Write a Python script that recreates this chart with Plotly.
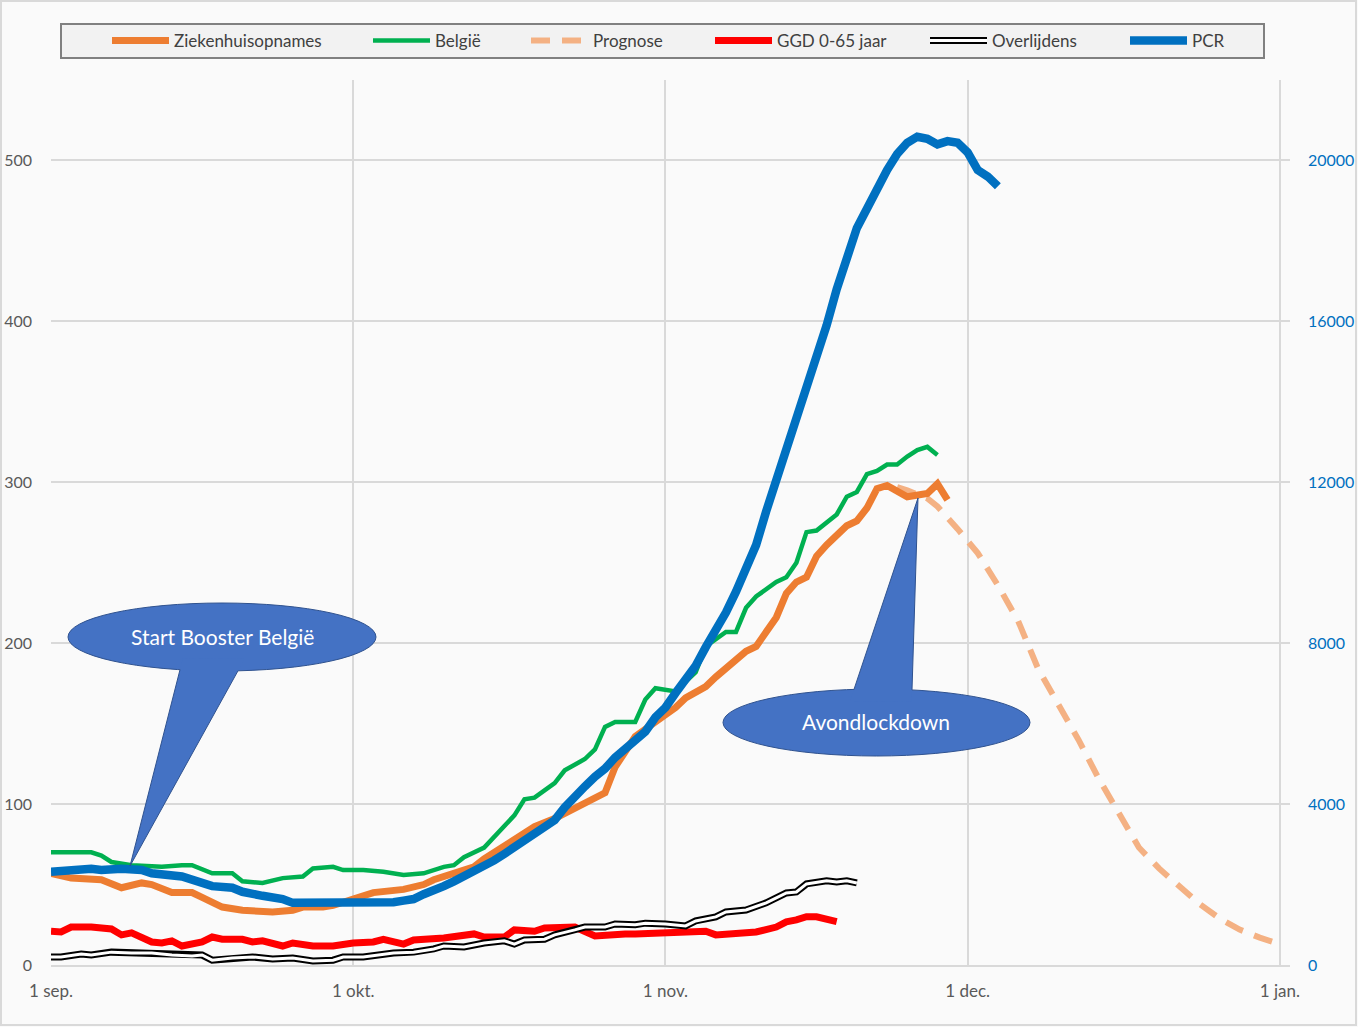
import pandas as pd
import plotly.graph_objects as go

START = "2021-09-01"

# ---------------- data (day offsets from 1 sep 2021) ----------------
zkh_day = [0, 2, 5, 7, 9, 10, 12, 14, 15, 17, 19, 22, 24, 25, 27, 28, 30, 32, 35, 37,
           38, 40, 42, 43, 45, 47, 48, 50, 53, 55, 56, 58, 60, 62, 63, 65, 66, 69, 70, 72,
           73, 74, 75, 76, 77, 79, 80, 81, 82, 83, 85, 87, 88, 89]
zkh_val = [57, 54, 53, 48, 51, 50, 45, 45, 42, 36, 34, 33, 34, 36, 36, 37, 41, 45, 47, 50,
           53, 57, 61, 66, 74, 81, 86, 91, 101, 107, 123, 142, 151, 160, 166, 173, 179, 195, 198, 216,
           231, 238, 241, 254, 261, 273, 276, 284, 296, 298, 291, 293, 299, 289]

bel_day = [0, 2, 4, 5, 6, 8, 10, 11, 13, 14, 16, 18, 19, 21, 23, 25, 26, 28, 29, 31,
           33, 35, 37, 39, 40, 41, 43, 45, 46, 47, 48, 50, 51, 53, 54, 55, 56, 58, 59, 60,
           62, 64, 65, 67, 68, 69, 70, 72, 73, 74, 75, 76, 77, 78, 79, 80, 81, 82, 83, 84,
           85, 86, 87, 88]
bel_val = [70, 70, 70, 68, 64, 62, 61, 61, 62, 62, 57, 57, 52, 51, 54, 55, 60, 61, 59, 59,
           58, 56, 57, 61, 62, 67, 73, 87, 93, 103, 104, 113, 121, 128, 134, 148, 151, 151, 165, 172,
           170, 182, 198, 207, 207, 222, 229, 238, 241, 250, 269, 270, 275, 280, 291, 294, 305, 307, 311, 311,
           316, 320, 322, 317]

prog_day = [84, 85, 87, 88, 90, 92, 94, 96, 98, 100, 102, 104, 106, 108, 110, 112, 114, 116, 118, 120, 122]
prog_val = [297, 295, 290, 285, 271, 256, 236, 214, 184, 162, 140, 116, 94, 73, 60, 49, 38, 29, 22, 17, 13]

ggd_day = [0, 1, 2, 4, 6, 7, 8, 10, 11, 12, 13, 15, 16, 17, 19, 20, 21, 23, 24, 26,
           28, 30, 32, 33, 35, 36, 39, 42, 43, 45, 46, 48, 49, 51, 52, 54, 55, 57, 58, 60,
           63, 65, 66, 68, 70, 72, 73, 74, 75, 76, 77, 78]
ggd_val = [21, 20.5, 23.6, 23.6, 22.4, 18.7, 20, 14.3, 13.7, 15, 11.8, 14.3, 17.4, 16, 16, 14.3, 15, 11.8, 13.7, 11.8,
           11.8, 13.7, 14.3, 16, 13, 15.6, 16.8, 19.3, 17.4, 17.4, 21.8, 21, 23, 23, 23.6, 18, 18.7, 19.3, 19.3, 20,
           20.5, 21, 18.7, 19.9, 20.5, 23.6, 26.8, 28, 30, 30, 29, 27]

ovl_day = [0, 1, 3, 4, 6, 8, 10, 12, 14, 15, 16, 18, 20, 22, 24, 26, 28, 29, 31, 34,
           36, 38, 39, 41, 43, 45, 46, 47, 49, 50, 52, 53, 55, 56, 58, 59, 61, 63, 64, 66,
           67, 69, 71, 73, 74, 75, 77, 78, 79, 80]
ovl_val = [5, 5, 6.8, 6.2, 8, 7.5, 7.5, 6.2, 5.6, 6.2, 3, 4.4, 5, 3.7, 4.4, 2.5, 3, 5, 5, 7.5,
           8, 10, 11.8, 11.2, 13.7, 15, 13, 15.6, 16, 18.7, 21.8, 23.6, 23.6, 25.5, 25, 26, 25.5, 24.3, 27.4, 29.9,
           33, 34.2, 38.6, 44.8, 45.4, 50.4, 52.3, 51.6, 52.3, 51]

pcr_day = [0, 2, 4, 5, 7, 9, 10, 13, 14, 16, 18, 19, 21, 23, 24, 26, 28, 30, 32] + list(range(34, 95))
pcr_val = [2320, 2360, 2390, 2360, 2390, 2360, 2280, 2200, 2120, 1960, 1920, 1820, 1720, 1640, 1545, 1545, 1545, 1520, 1545,
           1560, 1600, 1640, 1760, 1840, 1960, 2080, 2200, 2320, 2480, 2600, 2760, 2920, 3080, 3240, 3400,
           3600, 3920, 4200, 4440, 4680, 4880, 5160, 5360, 5560, 5800, 6160, 6400, 6760, 7120, 7440, 7900,
           8320, 8760, 9280, 9840, 10440, 11280, 12040, 12720, 13600, 14300, 15000, 15900, 16800, 17560, 18320,
           18800, 19320, 19760, 20160, 20440, 20590, 20540, 20400, 20480, 20440, 20200, 19760, 19600, 19360]

tick_dates = ["2021-09-01", "2021-10-01", "2021-11-01", "2021-12-01", "2022-01-01"]
tick_text = ["1 sep.", "1 okt.", "1 nov.", "1 dec.", "1 jan."]
left_ticks = [0, 100, 200, 300, 400, 500]
right_ticks = [0, 4000, 8000, 12000, 16000, 20000]


def to_dates(days):
    return pd.Timestamp(START) + pd.to_timedelta(days, unit="D")


FONT = "Lato"
fig = go.Figure()

# Prognose first so the observed orange line is drawn above it
fig.add_trace(go.Scatter(x=to_dates(prog_day), y=prog_val, name="Prognose", mode="lines",
                         line=dict(color="#f4b183", width=6, dash="19px,12px"), legend="legend3"))
fig.add_trace(go.Scatter(x=to_dates(zkh_day), y=zkh_val, name="Ziekenhuisopnames", mode="lines",
                         line=dict(color="#ed7d31", width=7), legend="legend"))
fig.add_trace(go.Scatter(x=to_dates(bel_day), y=bel_val, name="België", mode="lines",
                         line=dict(color="#00b050", width=4.5), legend="legend2"))
fig.add_trace(go.Scatter(x=to_dates(ggd_day), y=ggd_val, name="GGD 0-65 jaar", mode="lines",
                         line=dict(color="#ff0000", width=7), legend="legend4"))
fig.add_trace(go.Scatter(x=to_dates(ovl_day), y=ovl_val, name="Overlijdens", mode="lines",
                         line=dict(color="#000000", width=7), legend="legend5"))
fig.add_trace(go.Scatter(x=to_dates(ovl_day), y=ovl_val, name=" ", mode="lines",
                         line=dict(color="#ffffff", width=3), legend="legend7"))
fig.add_trace(go.Scatter(x=to_dates(pcr_day), y=pcr_val, name="PCR", mode="lines", yaxis="y2",
                         line=dict(color="#0070c0", width=8.5), legend="legend6"))

# ---------------- layout helpers (pixel -> paper) ----------------
L, R, T, B = 51, 1290, 80, 965


def px(x):
    return (x - L) / (R - L)


def py(y):
    return (B - y) / (B - T)


shapes = [
    dict(type="rect", xref="paper", yref="paper", x0=px(1), x1=px(1356), y0=py(1025), y1=py(1),
         line=dict(color="#d9d9d9", width=2), fillcolor="rgba(0,0,0,0)", layer="below"),
    # legend frame
    dict(type="rect", xref="paper", yref="paper", x0=px(61), x1=px(1264), y0=py(58), y1=py(24),
         line=dict(color="#808080", width=2), fillcolor="#f2f2f2", layer="below"),
]


def callout(cx, cy, a, b, bl, br, tip):
    out = []
    out.append(dict(type="circle", xref="paper", yref="paper", x0=px(cx - a), x1=px(cx + a),
                    y0=py(cy + b), y1=py(cy - b), fillcolor="#4472c4",
                    line=dict(color="#2f528f", width=1), layer="above"))

    def ext(p, k=0.06):
        return (p[0] + (p[0] - tip[0]) * k, p[1] + (p[1] - tip[1]) * k)

    el, er = ext(bl), ext(br)
    p = (f"M {px(el[0])},{py(el[1])} L {px(er[0])},{py(er[1])} "
         f"L {px(tip[0])},{py(tip[1])} Z")
    out.append(dict(type="path", xref="paper", yref="paper", path=p, fillcolor="#4472c4",
                    line=dict(width=0), layer="above"))
    p2 = (f"M {px(bl[0])},{py(bl[1])} L {px(tip[0])},{py(tip[1])} L {px(br[0])},{py(br[1])}")
    out.append(dict(type="path", xref="paper", yref="paper", path=p2, fillcolor="rgba(0,0,0,0)",
                    line=dict(color="#2f528f", width=1), layer="above"))
    return out


shapes += callout(222, 637, 154, 34, (180, 669.7), (238, 670.8), (130, 866))
shapes += callout(876.5, 722.5, 153.5, 33.5, (854, 689.4), (912, 689.9), (918, 498))

annotations = [
    dict(text="Start Booster België", xref="paper", yref="paper", x=px(222), y=py(636),
         xanchor="center", yanchor="middle",
         showarrow=False, font=dict(family=FONT, size=21, color="white")),
    dict(text="Avondlockdown", xref="paper", yref="paper", x=px(876), y=py(721),
         xanchor="center", yanchor="middle",
         showarrow=False, font=dict(family=FONT, size=21, color="white")),
]

LEG_FONT = dict(family=FONT, size=17, color="#404040")


def leg(sym_x):
    return dict(orientation="h", x=px(sym_x - 5), xanchor="left", y=py(41), yanchor="middle",
                bgcolor="rgba(0,0,0,0)", borderwidth=0, font=LEG_FONT, itemwidth=57)


fig.update_layout(
    width=1358, height=1027,
    margin=dict(l=L, r=1358 - R, t=T, b=1027 - B, autoexpand=False),
    paper_bgcolor="#fafafa", plot_bgcolor="#fafafa",
    font=dict(family=FONT, color="#595959"),
    showlegend=True,
    legend=leg(112), legend2=leg(373), legend3=leg(531), legend4=leg(715),
    legend5=leg(930), legend6=leg(1130), legend7=leg(930),
    xaxis=dict(type="date", range=["2021-09-01", "2022-01-02"], automargin=False,
               tickvals=tick_dates, ticktext=tick_text, showgrid=True, gridcolor="#d9d9d9", gridwidth=1.5,
               showline=True, linecolor="#d9d9d9", linewidth=2, zeroline=False, ticks="",
               ticklabelstandoff=10,
               tickfont=dict(family=FONT, size=17, color="#595959")),
    yaxis=dict(range=[0, 550], tickvals=left_ticks, showgrid=True, gridcolor="#d9d9d9", gridwidth=1.5,
               zeroline=False, showline=False, ticks="", ticklabelstandoff=18, automargin=False,
               tickfont=dict(family=FONT, size=16, color="#595959")),
    yaxis2=dict(range=[0, 22000], tickvals=right_ticks, tickformat="d", overlaying="y", side="right",
                showgrid=False, zeroline=False, showline=False, ticks="", ticklabelstandoff=17,
                automargin=False,
                tickfont=dict(family=FONT, size=16, color="#0070c0")),
    shapes=shapes,
    annotations=annotations,
)

fig.write_html("out.html")
